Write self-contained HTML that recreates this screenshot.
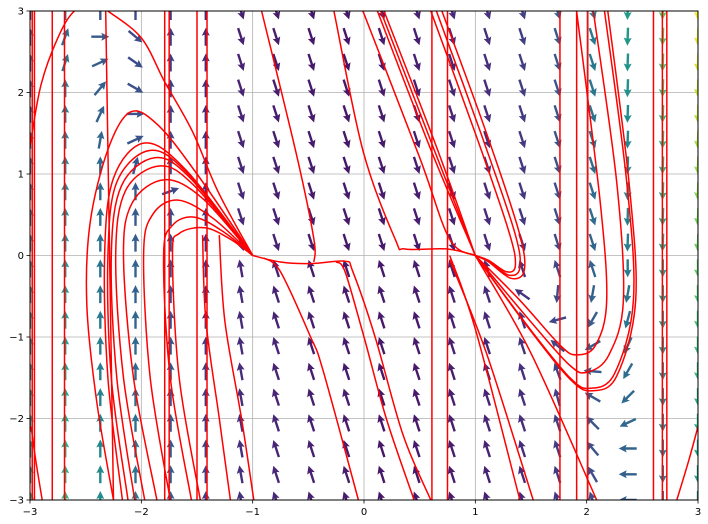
<!DOCTYPE html>
<html><head><meta charset="utf-8"><style>
body{margin:0;background:#fff;}
svg{display:block;font-family:"DejaVu Sans","Liberation Sans",sans-serif;}
</style></head><body>
<svg id="chart" width="708" height="524" viewBox="0 0 708 524" xmlns="http://www.w3.org/2000/svg">
<g id="grid"></g>
<g id="arrows"></g>
<g id="curves"></g>
<rect x="30" y="11" width="668" height="489" fill="none" stroke="#000" stroke-width="1"/>
<g id="ticks"></g>
</svg>
<script>
const xTicks=[-3,-2,-1,0,1,2,3];
const yTicks=[-3,-2,-1,0,1,2,3];
const gridN=20;
const colMag=[0.55,0.6,0.45,0.35,0.25,0.14,0.1,0.07,0.05,0.04,0.04,0.05,0.07,0.1,0.15,0.25,0.38,0.5,0.7,0.95];
const arrowOverrides=[[1,1,-70],[1,2,-72],[2,1,0],[2,2,-25],[2,3,-50],[2,4,-65],[2,5,-80],
[3,1,40],[3,2,35],[3,3,30],[3,4,0],[3,5,-25],[3,6,-75],[4,7,-20],
[14,11,-145],[15,11,95],[15,12,165],[15,13,-140],[15,14,-110],[15,15,-105],
[16,11,100],[16,12,120],[16,13,150],[16,14,185],[16,15,-150],[16,16,-135],[16,17,-130],[16,18,-120],
[17,11,100],[17,12,105],[17,13,115],[17,14,120],[17,15,135],[17,16,155],[17,17,180],[17,18,180],[17,19,180]];
const verticalX=[-2.98,-2.96,-2.80,-2.69,-1.79,-1.75,-1.50,-1.41,0.61,0.75,1.76,1.91,2.01,2.60,2.68,2.72];
const curveData=[
[[-2.32,3],[-2.25,-3]],
[[-2.89,-3],[-2.95,-2.5],[-2.99,-2.1]],
[[-3,1.35],[-2.9,2.1],[-2.75,2.67],[-2.6,3.0],[-2.4,3.1]],
[[-2.3,3],[-2.0,2.67],[-1.79,2.13],[-1.54,1.52],[-1.31,0.78],[-1.0,0]],
[[-2.25,-3],[-2.4,-1.8],[-2.49,-0.6],[-2.46,0.4],[-2.3,1.3],[-2.1,1.76],[-1.85,1.6],[-1.5,1.0],[-1.0,0]],
[[-2.17,-3],[-2.3,-1.5],[-2.33,0],[-2.25,0.95],[-1.97,1.38],[-1.6,1.05],[-1.0,0]],
[[-2.12,-3],[-2.27,-1.5],[-2.3,0],[-2.22,0.9],[-1.92,1.29],[-1.58,1.0],[-1.0,0]],
[[-2.06,-3],[-2.22,-1.5],[-2.27,0],[-2.18,0.85],[-1.88,1.2],[-1.56,0.95],[-1.0,0]],
[[-1.97,-3],[-2.16,-1.5],[-2.23,0],[-2.14,0.8],[-1.83,1.1],[-1.52,0.85],[-1.0,0]],
[[-1.86,-3],[-2.07,-1.5],[-2.16,0],[-2.08,0.65],[-1.79,0.93],[-1.45,0.7],[-1.0,0]],
[[-1.74,-3],[-1.92,-1.5],[-1.98,0],[-1.9,0.5],[-1.67,0.68],[-1.35,0.45],[-1.0,0]],
[[-1.55,-3],[-1.74,-1.5],[-1.8,0],[-1.72,0.37],[-1.52,0.47],[-1.25,0.28],[-1.0,0]],
[[-1.47,-3],[-1.66,-1.5],[-1.72,0],[-1.66,0.27],[-1.43,0.34],[-1.2,0.2],[-1.0,0]],
[[-1.0,0],[-0.75,-0.08],[-0.48,-0.1],[-0.17,-0.07],[-0.1,-0.2],[0.1,-1.0],[0.35,-2.2],[0.6,-3]],
[[-0.92,3],[-0.6,1.2],[-0.45,0.2],[-0.45,-0.08]],
[[-0.9,-0.03],[-0.75,-0.2],[-0.48,-1.0],[-0.37,-1.4],[-0.05,-3]],
[[-0.25,-0.08],[-0.17,-0.2],[0.0,-1.0],[0.2,-2.0],[0.45,-3]],
[[-1.3,0.25],[-1.25,-0.8],[-1.1,-2.0],[-0.99,-3]],
[[-1.45,0.25],[-1.42,-0.8],[-1.3,-2.0],[-1.2,-3]],
[[-0.27,3],[-0.01,1.29],[0.28,0.2],[0.37,0.08],[0.75,0.08],[1.0,0]],
[[-0.01,3],[0.5,1.2],[0.77,0.2],[1.0,0]],
[[0.12,3],[0.6,1.3],[1.0,0]],
[[0.15,3],[0.63,1.3],[1.0,0]],
[[0.18,3],[0.66,1.3],[1.0,0]],
[[0.6,3],[1.0,1.5],[1.3,0.3],[1.36,-0.12],[1.28,-0.2],[1.12,-0.06],[1.0,0]],
[[0.65,3],[1.05,1.5],[1.35,0.3],[1.4,-0.15],[1.3,-0.24],[1.12,-0.07],[1.0,0]],
[[0.7,3],[1.1,1.5],[1.39,0.3],[1.44,-0.18],[1.32,-0.28],[1.12,-0.08],[1.0,0]],
[[1.0,0],[1.4,-0.55],[1.76,-1.1],[1.91,-1.22],[2.08,-1.1],[2.18,-0.55],[2.12,0.68],[1.91,3]],
[[1.0,0],[1.49,-0.8],[1.85,-1.35],[2.01,-1.43],[2.2,-1.22],[2.33,-0.55],[2.27,0.9],[2.06,3]],
[[1.0,0],[1.49,-0.9],[1.85,-1.5],[2.03,-1.63],[2.25,-1.45],[2.42,-0.55],[2.36,0.9],[2.16,3]],
[[1.0,0],[1.5,-0.93],[1.86,-1.53],[2.05,-1.66],[2.27,-1.48],[2.44,-0.55],[2.38,0.9],[2.19,3]],
[[0.77,0],[1.0,-0.9],[1.4,-3]],
[[0.77,-0.05],[1.1,-1.2],[1.52,-3]],
[[1.0,0],[1.5,-1.2],[2.09,-3]],
[[3.0,-2.1],[2.92,-2.5],[2.81,-3]]
];
const X0=30,X1=698,Y0=500,Y1=11;
function sx(v){return X0+(v+3)/6*(X1-X0);}
function sy(v){return Y0-(v+3)/6*(Y0-Y1);}
const NS='http://www.w3.org/2000/svg';
function mk(t,a,p){const e=document.createElementNS(NS,t);for(const k in a)e.setAttribute(k,a[k]);p.appendChild(e);return e;}
const svg=document.getElementById('chart');
const defs=mk('defs',{},svg);
const cp=mk('clipPath',{id:'clip'},defs);
mk('rect',{x:X0,y:Y1,width:X1-X0,height:Y0-Y1},cp);
const g=document.getElementById('grid'),tk=document.getElementById('ticks');
xTicks.forEach(v=>{const l=mk('line',{x1:sx(v),x2:sx(v),y1:Y1,y2:Y0,stroke:'#b0b0b0','stroke-width':0.8},g);

const m=mk('line',{x1:sx(v),x2:sx(v),y1:Y0,y2:Y0+3.5,stroke:'#000','stroke-width':0.8},tk);

const t=mk('text',{x:sx(v),y:Y0+15,'font-size':10,'text-anchor':'middle',fill:'#000'},tk);t.textContent=(v<0?'\u2212':'')+Math.abs(v);
});
yTicks.forEach(v=>{const l=mk('line',{x1:X0,x2:X1,y1:sy(v),y2:sy(v),stroke:'#b0b0b0','stroke-width':0.8},g);

const m=mk('line',{x1:X0-3.5,x2:X0,y1:sy(v),y2:sy(v),stroke:'#000','stroke-width':0.8},tk);

const t=mk('text',{x:X0-6,y:sy(v)+3.5,'font-size':10,'text-anchor':'end',fill:'#000'},tk);t.textContent=(v<0?'\u2212':'')+Math.abs(v);
});
const vir=[[68,1,84],[72,40,120],[62,74,137],[49,104,142],[38,130,142],[31,158,137],[53,183,121],[109,205,89],[180,222,44],[253,231,37]];
function viridis(m){m=Math.max(0,Math.min(1,m))*9;const i=Math.min(8,Math.floor(m)),f=m-i;const a=vir[i],b=vir[i+1];
return 'rgb('+a.map((c,k)=>Math.round(c+(b[k]-c)*f)).join(',')+')';}
const ov={};arrowOverrides.forEach(o=>{ov[o[0]+','+o[1]]=o[2];});
const ag=document.getElementById('arrows');
ag.setAttribute('clip-path','url(#clip)');
for(let k=0;k<gridN;k++){for(let j=0;j<gridN;j++){
 const x=-3+6*k/(gridN-1),y=3-6*j/(gridN-1);
 let ang;
 if(ov[k+','+j]!==undefined)ang=ov[k+','+j];
 else if(x<-1.2)ang=-90;
 else if(x<2.2){ang=y>0?72:-108; if(k===6&&y<0)ang=-100;}
 else ang=y>0?92:90;
 const t=x<0?(3-y)/6:(y+3)/6;
 const mag=0.04+colMag[k]*(0.75+0.5*(t-0.5));
 const px=sx(x),py=sy(y);
 const a=mk('polygon',{points:'-9,-1.2 2,-1.2 1,-4 9,0 1,4 2,1.2 -9,1.2',fill:viridis(mag),transform:'translate('+px.toFixed(1)+','+py.toFixed(1)+') rotate('+ang+')'},ag);
 
 
}}
const cg=document.getElementById('curves');
cg.setAttribute('clip-path','url(#clip)');
function pathFor(pts){const P=pts.map(p=>[sx(p[0]),sy(p[1])]);let d='M'+P[0][0].toFixed(1)+','+P[0][1].toFixed(1);
 for(let i=0;i<P.length-1;i++){const p0=P[Math.max(0,i-1)],p1=P[i],p2=P[i+1],p3=P[Math.min(P.length-1,i+2)];
 const c1=[p1[0]+(p2[0]-p0[0])/6,p1[1]+(p2[1]-p0[1])/6],c2=[p2[0]-(p3[0]-p1[0])/6,p2[1]-(p3[1]-p1[1])/6];
 d+=' C'+c1.map(v=>v.toFixed(1))+' '+c2.map(v=>v.toFixed(1))+' '+p2.map(v=>v.toFixed(1));}
 return d;}
verticalX.forEach(v=>{const l=mk('line',{x1:sx(v),x2:sx(v),y1:Y1,y2:Y0,stroke:'#ff0000','stroke-width':1.5},cg);

});
curveData.forEach(c=>{const p=mk('path',{d:pathFor(c),fill:'none',stroke:'#ff0000','stroke-width':1.5},cg);

});
</script>
</body></html>
